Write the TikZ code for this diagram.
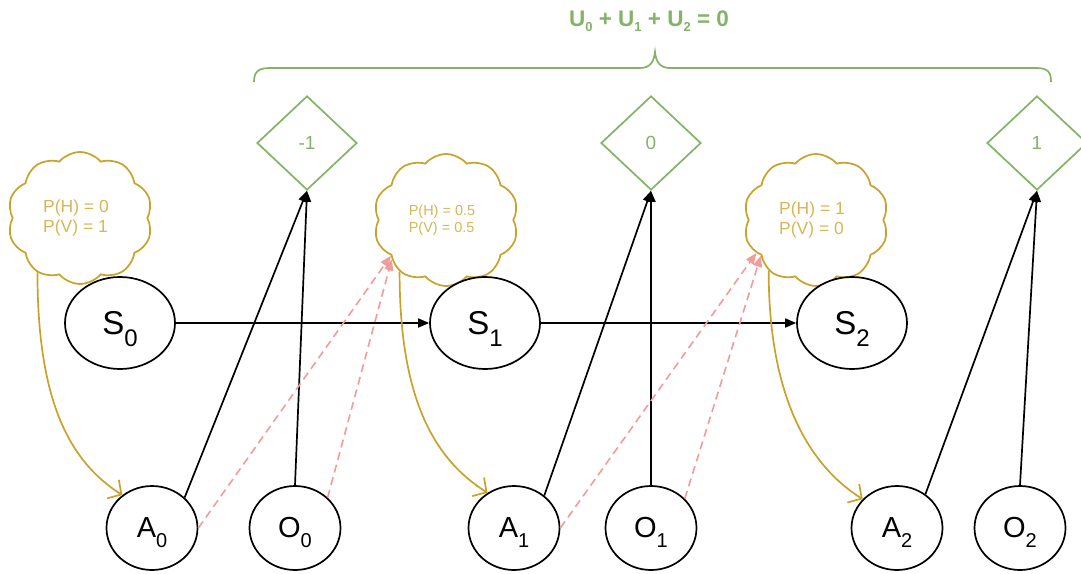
\documentclass[tikz,border=0pt]{standalone}
\usepackage{fontspec}
\setmainfont{Liberation Sans}
\usetikzlibrary{shapes.geometric,shapes.symbols,arrows.meta}
\definecolor{grn}{HTML}{82B366}
\definecolor{gold}{HTML}{C9A22A}
\definecolor{goldtxt}{HTML}{D6B656}
\definecolor{pinkc}{HTML}{F19C99}
\newcommand{\bigsub}[2]{{\fontsize{33}{33}\selectfont #1}\smash{\raisebox{-12pt}{\fontsize{24}{24}\selectfont #2}}}
\newcommand{\smsub}[2]{{\fontsize{29}{29}\selectfont #1}\smash{\raisebox{-10pt}{\fontsize{20}{20}\selectfont #2}}}
\newcommand{\tsub}[1]{\smash{\raisebox{-5pt}{\fontsize{13}{13}\selectfont #1}}}
\begin{document}
\begin{tikzpicture}[x=1pt,y=-1pt,
  stnode/.style={ellipse, draw, line width=1.7pt, minimum width=110pt, minimum height=92pt, inner sep=0pt},
  obnode/.style={ellipse, draw, line width=1.7pt, minimum width=91pt, minimum height=84pt, inner sep=0pt},
  util/.style={diamond, draw=grn, line width=1.7pt, minimum width=100pt, minimum height=94pt, inner sep=0pt, text=grn, font=\fontsize{19}{19}\selectfont},
  belief/.style={cloud, cloud puffs=10, cloud puff arc=100, cloud ignores aspect, draw=gold, line width=1.7pt, minimum width=145pt, minimum height=132pt, inner sep=0pt, text=goldtxt, align=left},
  blk/.style={line width=1.7pt, -{Triangle[length=11pt,width=9pt]}},
  msg/.style={draw=pinkc, line width=1.6pt, dash pattern=on 8pt off 5pt, -{Triangle[length=11pt,width=9pt,fill=pinkc]}},
  infl/.style={draw=gold, line width=1.7pt, -{Straight Barb[length=10pt,width=22pt]}},
]
\useasboundingbox (0,0) rectangle (1081,573);

% title and brace
\node[text=grn, font=\bfseries\fontsize{22.5}{22.5}\selectfont] (title) at (649,19) {U\tsub{0} + U\tsub{1} + U\tsub{2} = 0};
\draw[grn, line width=1.7pt] (254,82) .. controls (254,72) and (258,68) .. (270,68) -- (640,68)
  .. controls (650,68) and (654,62) .. (655,52) .. controls (656,62) and (660,68) .. (670,68)
  -- (1036,68) .. controls (1048,68) and (1051,72) .. (1051,82);

% utilities
\node[util] (d0) at (307,143) {-1};
\node[util] (d1) at (651,143) {0};
\node[util] (d2) at (1037,143) {1};

% beliefs
\node[belief, font=\fontsize{17.5}{20}\selectfont] (c0) at (80,218) {\hspace*{-8pt}P(H) = 0\\\hspace*{-8pt}P(V) = 1};
\node[belief, font=\fontsize{14.5}{16.5}\selectfont] (c1) at (446,220) {\hspace*{-8pt}P(H) = 0.5\\\hspace*{-8pt}P(V) = 0.5};
\node[belief, font=\fontsize{17.5}{20}\selectfont] (c2) at (816,220) {\hspace*{-8pt}P(H) = 1\\\hspace*{-8pt}P(V) = 0};

% states
\node[stnode, fill=white] (S0) at (120,323) {\bigsub{S}{0}};
\node[stnode, fill=white] (S1) at (485,323) {\bigsub{S}{1}};
\node[stnode, fill=white] (S2) at (852,323) {\bigsub{S}{2}};

% actions / observations
\node[obnode] (A0) at (152,528) {\smsub{A}{0}};
\node[obnode] (O0) at (295,528) {\smsub{O}{0}};
\node[obnode] (A1) at (514,528) {\smsub{A}{1}};
\node[obnode] (O1) at (651,528) {\smsub{O}{1}};
\node[obnode] (A2) at (897,528) {\smsub{A}{2}};
\node[obnode] (O2) at (1020,528) {\smsub{O}{2}};

% transitions
\draw[blk] (S0) -- (S1);
\draw[blk] (S1) -- (S2);

% utilities links
\draw[blk] (A0.43) -- (d0.south);
\draw[blk] (O0.north) -- (d0.south);
\draw[blk] (A1.47) -- (d1.south);
\draw[blk] (O1.north) -- (d1.south);
\draw[blk] (A2.50) -- (d2.south);
\draw[blk] (O2.north) -- (d2.south);

% belief updates
\draw[msg] (A0.east) -- (c1.213);
\draw[msg] (O0.43) -- (c1.216);
\draw[msg] (A1.east) -- (c2.209);
\draw[msg] (O1.41) -- (c2.213);

% policies
\draw[infl] (c0.232) .. controls +(0,125) and +(-55,-35) .. (A0.132);
\draw[infl] (c1.228) .. controls +(0,125) and +(-55,-35) .. (A1.127);
\draw[infl] (c2.227) .. controls +(0,125) and +(-55,-35) .. (A2.140);
\end{tikzpicture}
\end{document}
